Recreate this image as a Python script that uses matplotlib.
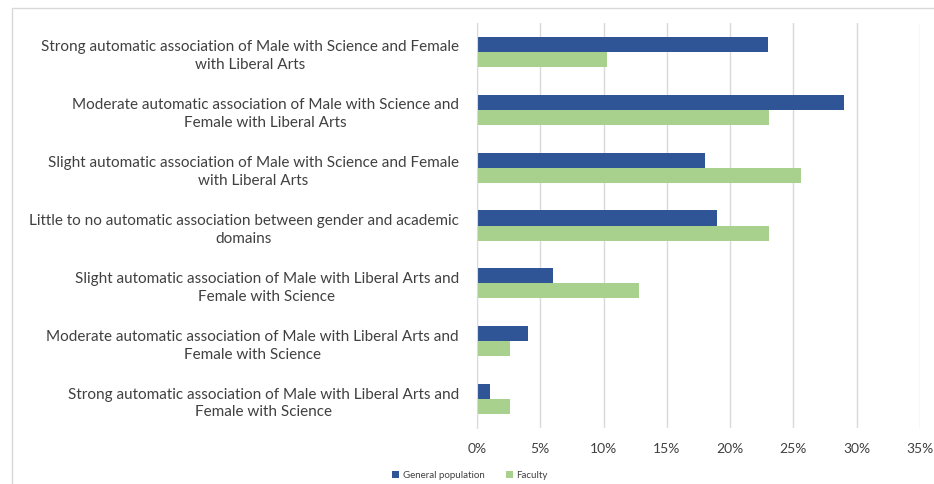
import numpy as np
import matplotlib.pyplot as plt
from matplotlib.patches import Rectangle

categories = [
    "Strong automatic association of Male with Science and Female\nwith Liberal Arts",
    "Moderate automatic association of Male with Science and\nFemale with Liberal Arts",
    "Slight automatic association of Male with Science and Female\nwith Liberal Arts",
    "Little to no automatic association between gender and academic\ndomains",
    "Slight automatic association of Male with Liberal Arts and\nFemale with Science",
    "Moderate automatic association of Male with Liberal Arts and\nFemale with Science",
    "Strong automatic association of Male with Liberal Arts and\nFemale with Science",
]
general_population = [23, 29, 18, 19, 6, 4, 1]
faculty = [10.3, 23.1, 25.6, 23.1, 12.8, 2.6, 2.6]
x_ticks = [0, 5, 10, 15, 20, 25, 30, 35]

blue = "#2F5597"
green = "#A9D18E"
text_gray = "#404040"

plt.rcParams['font.family'] = ['Lato', 'DejaVu Sans']

fig = plt.figure(figsize=(9.34, 4.85), dpi=100)
ax = fig.add_axes([477 / 934, 1 - 429 / 485, (920 - 477) / 934, (429 - 24) / 485])

y = np.arange(len(categories))
h = 0.26
ax.barh(y - h / 2, general_population, height=h, color=blue, label="General population")
ax.barh(y + h / 2, faculty, height=h, color=green, label="Faculty")

ax.set_ylim(len(categories) - 0.5, -0.5)
ax.set_xlim(0, 35)
ax.set_xticks(x_ticks)
ax.set_xticklabels([f"{t}%" for t in x_ticks], fontsize=10, color=text_gray)
ax.set_yticks(y)
ax.set_yticklabels(categories, fontsize=11, color=text_gray)
for lbl in ax.get_yticklabels():
    lbl.set_multialignment('center')
    lbl.set_linespacing(1.35)

ax.tick_params(axis='y', length=0, pad=13)
ax.tick_params(axis='x', length=0, pad=10)
ax.grid(axis='x', color="#D9D9D9", linewidth=1)
ax.set_axisbelow(True)
for side in ['top', 'right', 'bottom']:
    ax.spines[side].set_visible(False)
ax.spines['left'].set_color("#D9D9D9")

fig.legend(loc='center', bbox_to_anchor=(470 / 934, 1 - 476 / 485), ncol=2,
           frameon=False, fontsize=7, handlelength=0.7, handleheight=0.7,
           columnspacing=2.2, handletextpad=0.4, labelcolor=text_gray)

# outer chart border
fig.patches.append(Rectangle((12 / 934, -0.01), 1.0, 1 - 9 / 485 + 0.01,
                             transform=fig.transFigure, fill=False,
                             edgecolor="#D9D9D9", linewidth=1))

fig.savefig("out.png", dpi=100)
